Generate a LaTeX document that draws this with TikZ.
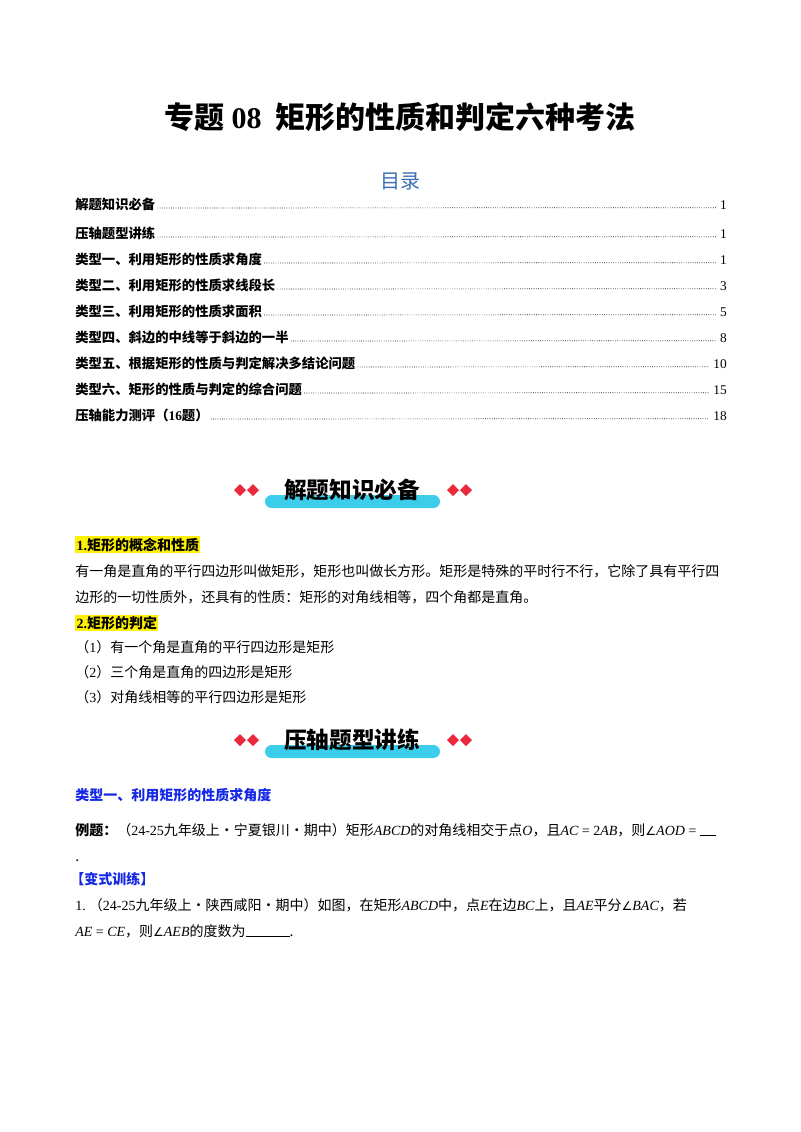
\documentclass[tikz,border=0pt]{standalone}
\usepackage{fontspec}
\setmainfont{Noto Sans CJK SC}
\newfontfamily\lat{Liberation Serif}
\newfontfamily\dejavu{DejaVu Sans}
\newcommand{\mi}[1]{{\lat\itshape #1}}
\newcommand{\rmx}[1]{{\lat #1}}
\newcommand{\ang}{{\dejavu\small ∠}}
\definecolor{tblue}{RGB}{60,110,180}
\definecolor{hblue}{RGB}{20,40,230}
\definecolor{dred}{RGB}{235,40,60}
\definecolor{bcyan}{RGB}{60,205,235}
\tikzset{
 txt/.style={anchor=base west,inner sep=0pt,font=\fontsize{10.5}{12}\selectfont},
 toc/.style={anchor=base west,inner sep=0pt,font=\fontsize{10}{12}\selectfont\bfseries},
 pg/.style={anchor=base east,inner sep=0pt,font=\fontsize{10}{12}\selectfont\lat},
 lead/.style={dash pattern=on 0.5pt off 1.2pt,line width=0.5pt},
 hl/.style={anchor=base west,inner sep=1pt,fill=yellow,font=\fontsize{10.5}{12}\selectfont\bfseries},
 bantxt/.style={inner sep=0pt,font=\fontsize{17}{20}\selectfont\bfseries},
 dia/.style={fill=dred,draw=none}
}
\newcommand{\banner}[3]{%
 \fill[bcyan,rounded corners=5pt] (265,#1+5) rectangle (440,#1+18);
 \node[bantxt] (#2) at (352,#1) {#3};
 \foreach \xx in {240,253,453,466} \fill[dia] (\xx,#1-6)--(\xx+6,#1)--(\xx,#1+6)--(\xx-6,#1)--cycle;
}
\begin{document}
\begin{tikzpicture}[x=0.75pt,y=-0.75pt]
\useasboundingbox (0,0) rectangle (800,1132);
\node[inner sep=0pt,font=\fontsize{22.5}{26}\selectfont\bfseries] (title) at (400,117) {专题 \rmx{\bfseries 08} \ 矩形的性质和判定六种考法};
\node[inner sep=0pt,text=tblue,font=\fontsize{15}{18}\selectfont] (mulu) at (400,181) {目录};
\foreach \yy/\t/\p [count=\i] in {
 209/解题知识必备/1,
 238/压轴题型讲练/1,
 264/类型一、利用矩形的性质求角度/1,
 290/类型二、利用矩形的性质求线段长/3,
 316/类型三、利用矩形的性质求面积/5,
 342/类型四、斜边的中线等于斜边的一半/8,
 368/类型五、根据矩形的性质与判定解决多结论问题/10,
 394/类型六、矩形的性质与判定的综合问题/15,
 420/{压轴能力测评（\rmx{16}题）}/18}{
 \node[toc] (t\i) at (75,\yy) {\t};
 \node[pg] (p\i) at (727,\yy) {\p};
 \draw[lead] (t\i.base east) ++(2,-1) coordinate (ls\i) -- ([xshift=-3pt,yshift=1pt]p\i.base west);
}
\banner{490}{ban1}{解题知识必备}
\node[hl] (h1) at (75,550) {\rmx{\bfseries 1.}矩形的概念和性质};
\node[txt] (l1) at (75,576) {有一角是直角的平行四边形叫做矩形，矩形也叫做长方形。矩形是特殊的平时行不行，它除了具有平行四};
\node[txt] (l2) at (75,602) {边形的一切性质外，还具有的性质：矩形的对角线相等，四个角都是直角。};
\node[hl] (h2) at (75,628) {\rmx{\bfseries 2.}矩形的判定};
\node[txt] (l3) at (75,652) {（\rmx{1}）有一个角是直角的平行四边形是矩形};
\node[txt] (l4) at (75,677) {（\rmx{2}）三个角是直角的四边形是矩形};
\node[txt] (l5) at (75,702) {（\rmx{3}）对角线相等的平行四边形是矩形};
\banner{740}{ban2}{压轴题型讲练}
\node[txt,text=hblue,font=\fontsize{10.5}{12}\selectfont\bfseries] (s1) at (75,800) {类型一、利用矩形的性质求角度};
\node[txt] (e1) at (75,835) {\textbf{例题：}（\rmx{24-25}九年级上·宁夏银川·期中）矩形\mi{ABCD}的对角线相交于点\mi{O}，且\mi{AC}\rmx{ = 2}\mi{AB}，则\ang\mi{AOD}\rmx{ = }\rule[-1pt]{12pt}{1pt}};
\node[txt] (e2) at (75,861) {.};
\node[txt,text=hblue,font=\fontsize{10.5}{12}\selectfont\bfseries] (bs) at (70,884) {【变式训练】};
\node[txt] (q1) at (75,910) {\rmx{1.}\ （\rmx{24-25}九年级上·陕西咸阳·期中）如图，在矩形\mi{ABCD}中，点\mi{E}在边\mi{BC}上，且\mi{AE}平分\ang\mi{BAC}，若};
\node[txt] (q2) at (75,936) {\mi{AE}\rmx{ = }\mi{CE}，则\ang\mi{AEB}的度数为\rule[-1pt]{33pt}{0.8pt}.};
\end{tikzpicture}
\end{document}
